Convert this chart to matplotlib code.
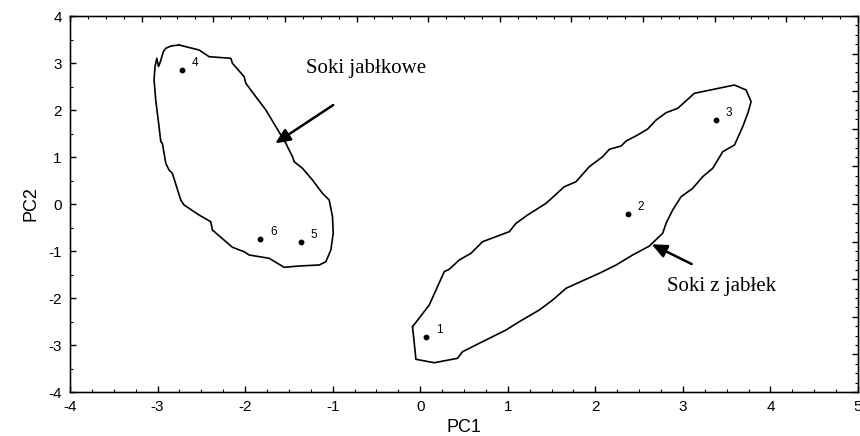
import matplotlib
matplotlib.use("Agg")
import matplotlib.pyplot as plt
from matplotlib.ticker import MultipleLocator, NullFormatter

# ---- data ----
point_ids = ["1", "2", "3", "4", "5", "6"]
pc1 = [0.07, 2.37, 3.38, -2.72, -1.36, -1.825]
pc2 = [-2.83, -0.21, 1.78, 2.85, -0.81, -0.745]

left_x = [-2.754, -2.526, -2.411, -2.163, -2.145, -2.011, -1.992, -1.878, -1.763,
          -1.649, -1.535, -1.459, -1.440, -1.345, -1.231, -1.117, -1.040, -1.002,
          -0.994, -1.021, -1.078, -1.154, -1.383, -1.554, -1.726, -1.954, -2.011,
          -2.145, -2.374, -2.392, -2.526, -2.697, -2.735, -2.831, -2.869, -2.906,
          -2.945, -2.963, -2.983, -3.021, -3.040, -3.029, -3.009, -2.989, -2.971,
          -2.934, -2.906, -2.846, -2.754]
left_y = [3.383, 3.277, 3.134, 3.100, 2.994, 2.709, 2.568, 2.283, 2.000,
          1.645, 1.291, 1.006, 0.900, 0.760, 0.511, 0.228, 0.085, -0.270,
          -0.623, -0.979, -1.228, -1.298, -1.319, -1.347, -1.155, -1.085, -1.015,
          -0.921, -0.553, -0.377, -0.234, -0.021, 0.085, 0.653, 0.723, 0.866,
          1.291, 1.326, 1.645, 2.213, 2.638, 2.921, 3.100, 2.926, 3.011,
          3.240, 3.313, 3.362, 3.383]

right_x = [-0.088, 0.103, 0.274, 0.331, 0.446, 0.579, 0.712, 1.017, 1.094, 1.226,
           1.437, 1.646, 1.779, 1.931, 2.083, 2.160, 2.294, 2.351, 2.483, 2.598,
           2.694, 2.808, 2.941, 3.131, 3.589, 3.722, 3.779, 3.741, 3.683, 3.589,
           3.455, 3.341, 3.226, 3.112, 2.979, 2.883, 2.808, 2.769, 2.617, 2.426,
           2.237, 2.046, 1.874, 1.665, 1.512, 1.360, 1.131, 0.979, 0.674, 0.483,
           0.426, 0.160, -0.049, -0.088]
right_y = [-2.611, -2.149, -1.440, -1.389, -1.191, -1.049, -0.802, -0.589, -0.411,
           -0.234, 0.015, 0.368, 0.474, 0.794, 1.006, 1.164, 1.234, 1.340, 1.468,
           1.596, 1.787, 1.943, 2.036, 2.355, 2.532, 2.426, 2.177, 1.930, 1.645,
           1.255, 1.113, 0.760, 0.581, 0.334, 0.155, -0.128, -0.411, -0.623,
           -0.894, -1.085, -1.298, -1.474, -1.617, -1.794, -2.043, -2.255, -2.504,
           -2.681, -2.964, -3.143, -3.283, -3.377, -3.304, -2.611]

group_labels = ["Soki jabłkowe", "Soki z jabłek"]
label_pos = [(-1.31, 2.89), (2.82, -1.76)]
arrow_tail = [(-0.994, 2.106), (3.10, -1.277)]
arrow_head = [(-1.657, 1.29), (2.643, -0.857)]

x_ticks = [-4, -3, -2, -1, 0, 1, 2, 3, 4, 5]
y_ticks = [-4, -3, -2, -1, 0, 1, 2, 3, 4]

# ---- figure ----
fig = plt.figure(figsize=(8.6, 4.36), dpi=100)
ax = fig.add_axes([0.0814, 0.1009, 0.9163, 0.8624])

ax.plot(left_x, left_y, color="black", lw=1.2)
ax.plot(right_x, right_y, color="black", lw=1.2)
ax.plot(pc1, pc2, "o", color="black", ms=3.2)
for lbl, x, y in zip(point_ids, pc1, pc2):
    ax.annotate(lbl, (x, y), xytext=(7, 3), textcoords="offset points",
                fontsize=8.5, family="Liberation Sans", color="black")

for txt, pos, tail, head in zip(group_labels, label_pos, arrow_tail, arrow_head):
    ax.text(pos[0], pos[1], txt, family="Liberation Serif", fontsize=15,
            va="center", ha="left")
    ax.annotate("", xy=head, xytext=tail,
                arrowprops=dict(arrowstyle="-|>,head_length=0.9,head_width=0.4",
                                color="black", lw=1.8, shrinkA=0, shrinkB=0))

ax.set_xlim(-4, 5)
ax.set_ylim(-4, 4)
ax.set_xticks(x_ticks)
ax.set_yticks(y_ticks)
ax.set_xticklabels([str(t) for t in x_ticks], family="Liberation Sans", fontsize=11)
ax.set_yticklabels([str(t) for t in y_ticks], family="Liberation Sans", fontsize=11)
ax.xaxis.set_minor_locator(MultipleLocator(0.25))
ax.yaxis.set_minor_locator(MultipleLocator(0.5))
ax.tick_params(which="major", direction="in", length=4, width=1, pad=6)
ax.tick_params(which="minor", direction="in", length=2, width=0.8)
ax.set_xlabel("PC1", family="Liberation Sans", fontsize=13, labelpad=3)
ax.set_ylabel("PC2", family="Liberation Sans", fontsize=13, labelpad=6)
for s in ax.spines.values():
    s.set_linewidth(1.0)

# secondary (frame) ticks on top and right
axt = ax.twiny()
axt.set_xlim(0, 11)
axt.xaxis.set_major_locator(MultipleLocator(1))
axt.xaxis.set_minor_locator(MultipleLocator(0.25))
axt.xaxis.set_major_formatter(NullFormatter())
axt.tick_params(which="major", direction="in", length=4, width=1)
axt.tick_params(which="minor", direction="in", length=2, width=0.8)

axr = ax.twinx()
axr.set_ylim(0, 10)
axr.yaxis.set_major_locator(MultipleLocator(1))
axr.yaxis.set_minor_locator(MultipleLocator(0.25))
axr.yaxis.set_major_formatter(NullFormatter())
axr.tick_params(which="major", direction="in", length=4, width=1)
axr.tick_params(which="minor", direction="in", length=2, width=0.8)

fig.savefig("out.png", dpi=100)
